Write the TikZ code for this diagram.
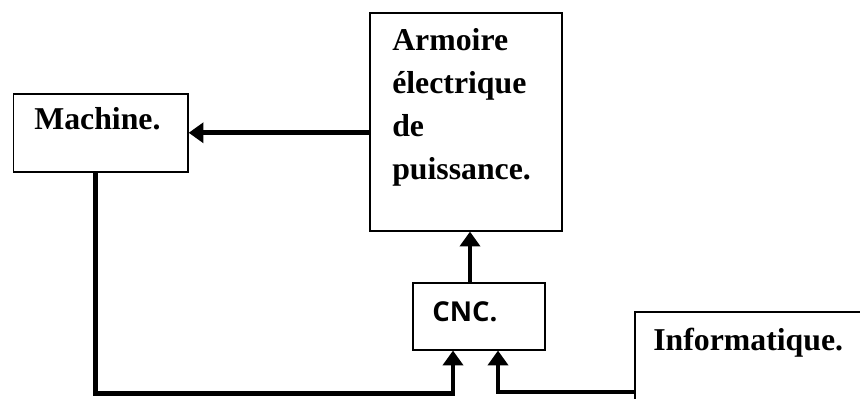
\documentclass[tikz,border=0pt]{standalone}
\usepackage{fontspec}
\setmainfont{Liberation Serif}
\newfontfamily\cncfont{Open Sans}
\usetikzlibrary{arrows.meta,calc}
\begin{document}
\begin{tikzpicture}[x=0.025cm,y=-0.025cm,
  box/.style={draw,line width=1.1pt,inner sep=0pt,anchor=north west},
  lbl/.style={inner sep=0pt,font=\bfseries\fontsize{22.6}{30.7}\selectfont},
  conn/.style={line width=3.3pt,-{Triangle[length=0.37cm,width=0.5cm]}}]
  \clip (0,0) rectangle (860,399);
  % boxes
  \node[box,minimum width=4.36cm,minimum height=1.95cm] (machine) at (12.7,93) {};
  \node[box,minimum width=4.8cm,minimum height=5.45cm] (armoire) at (369,12) {};
  \node[box,minimum width=3.3cm,minimum height=1.675cm] (cnc) at (412,282) {};
  \node[box,minimum width=7cm,minimum height=3cm] (info) at (634,311) {};
  % texts
  \node[lbl,anchor=base west] (machinetxt) at (34,130) {Machine.};
  \node[lbl,anchor=base west,align=left] (armoiretxt) at (392,180)
    {Armoire\\électrique\\de\\puissance.};
  \node[lbl,anchor=base west,font=\cncfont\bfseries\fontsize{19.5}{22}\selectfont] (cnctxt) at (432,321) {CNC.};
  \node[lbl,anchor=base west] (infotxt) at (653,350) {Informatique.};
  % links
  \draw[conn] (armoire.west |- machine.east) -- (machine.east);
  \draw[conn] ($(cnc.north west)+(58,0)$) coordinate (up) -- (up |- armoire.south);
  \draw[conn] ($(machine.south west)+(83,0)$) |- ($(cnc.south west)+(41,43)$)
    -- ($(cnc.south west)+(41,0)$);
  \draw[conn] ($(info.north west)+(0,81)$) -| ($(cnc.south west)+(86,0)$);
\end{tikzpicture}
\end{document}
